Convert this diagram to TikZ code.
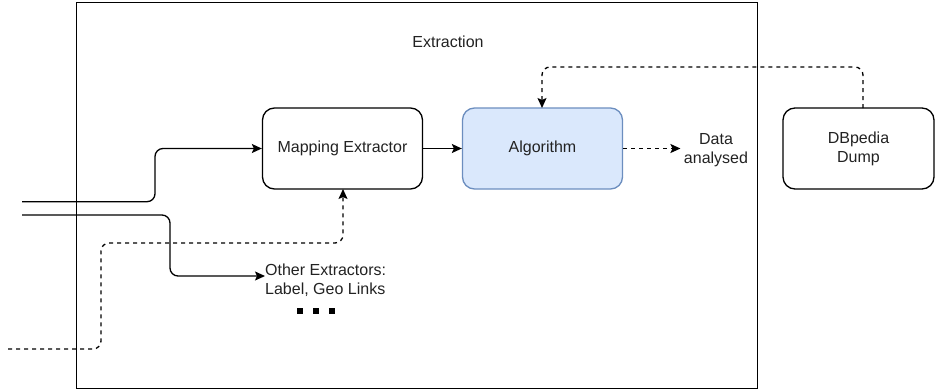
\documentclass[tikz,border=0pt]{standalone}
\usepackage{fontspec}
\setmainfont{Liberation Sans}
\usetikzlibrary{arrows.meta}
\definecolor{algfill}{HTML}{DAE8FC}
\definecolor{algdraw}{HTML}{6C8EBF}
\definecolor{txt}{HTML}{222222}
\begin{document}
\begin{tikzpicture}[x=1pt,y=-1pt,
  font=\fontsize{16}{19}\selectfont,
  box/.style={draw=black, line width=1.3pt, rounded corners=12pt, minimum width=160pt, minimum height=81pt, align=center, inner sep=0pt, text=txt},
  conn/.style={line width=1.3pt, rounded corners=8pt, -{Stealth[length=10pt,width=9pt,inset=2pt]}},
  dsh/.style={dash pattern=on 4pt off 4pt}]
\useasboundingbox (0,0) rectangle (935,391);
% outer frame
\node[draw=black, line width=1.3pt, minimum width=681pt, minimum height=386pt, inner sep=0pt, anchor=north west] (frame) at (76,2) {};
\node[text=txt] (extraction) at (448,42) {Extraction};
% boxes
\node[box] (map) at (342.5,148.5) {Mapping Extractor};
\node[box, fill=algfill, draw=algdraw] (alg) at (542.5,148.5) {Algorithm};
\node[box, minimum width=151pt] (dump) at (858.5,148.5) {DBpedia\\Dump};
\node[align=center, text=txt] (data) at (716,150) {Data\\analysed};
\node[align=left, anchor=west, inner sep=0pt, text=txt] (other) at (265,280) {Other Extractors:\\Label, Geo Links};
\node[inner sep=0pt] (dots) at (315.5,310.7) {\rule{6pt}{6pt}\hspace{10pt}\rule{6pt}{6pt}\hspace{10pt}\rule{6pt}{6pt}};
% free ends
\coordinate (in1) at (22,201.7);
\coordinate (in2) at (22,215);
\coordinate (in3) at (8,349);
% connectors
\draw[conn] (in1) -- (155,201.7) -- (155,148.5) -- (map.west);
\draw[conn] (in2) -- (170,215) -- (170,276) -- (other.west |- 0,276);
\draw[conn, dsh] (in3) -- (101,349) -- (101,243) -- (343,243) -- (343,189);
\draw[conn] (map.east) -- (alg.west);
\draw[conn, dsh] (alg.east) -- (data.west |- alg.east);
\draw[conn, dsh] (863,108) -- (863,67) -- (542,67) -- (542,108);
\end{tikzpicture}
\end{document}
